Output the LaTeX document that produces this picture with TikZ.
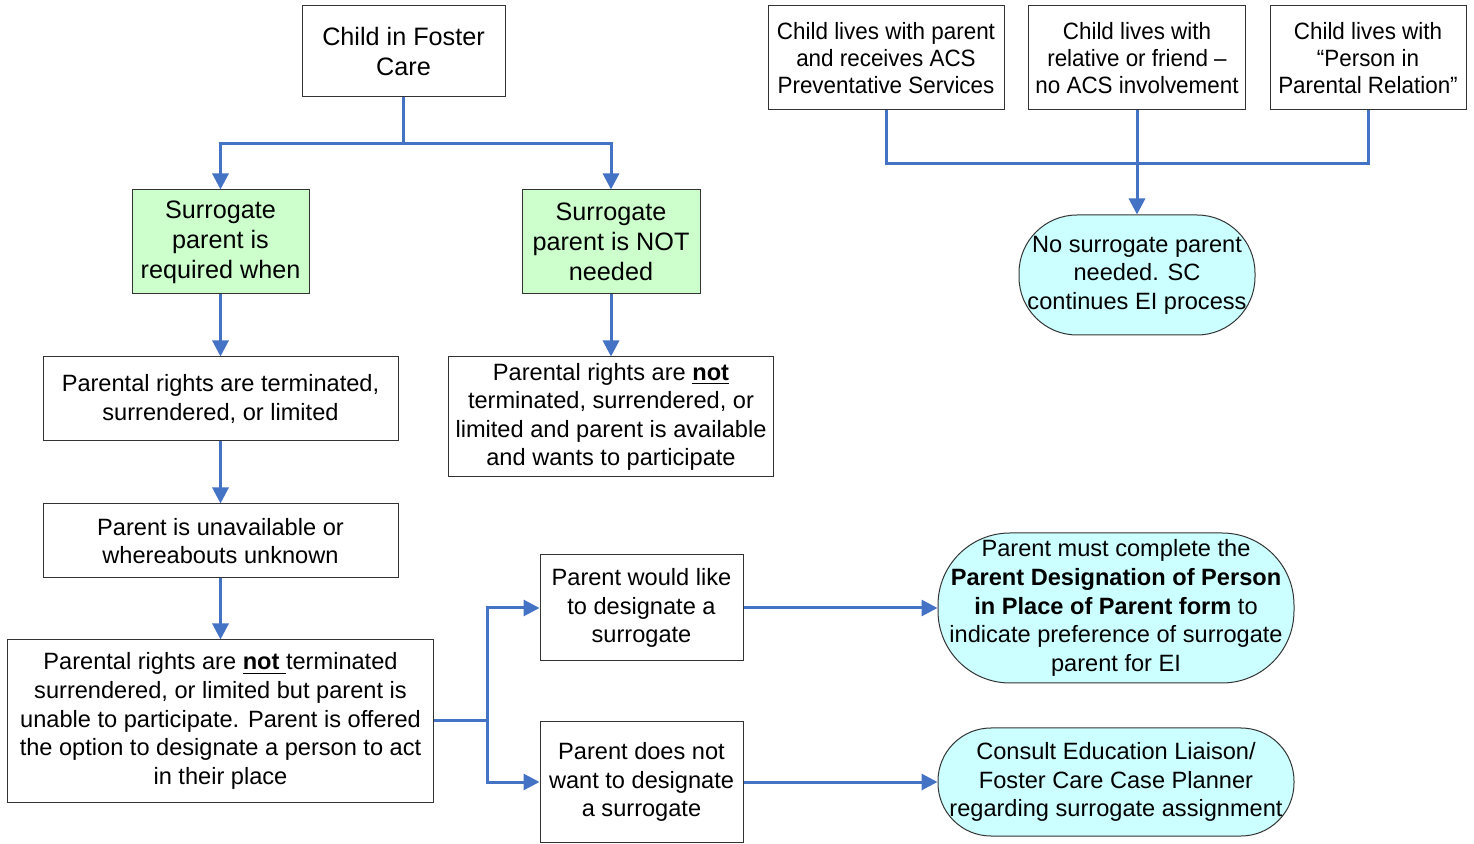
\documentclass[tikz,border=0pt]{standalone}
\usepackage{fontspec}
\setmainfont{Liberation Sans}
\newfontfamily\narrowsans[FakeStretch=0.95]{Liberation Sans}
\usetikzlibrary{positioning,arrows.meta}
\definecolor{flowblue}{HTML}{4472C4}
\definecolor{mintgreen}{HTML}{CCFFCC}
\definecolor{paleaqua}{HTML}{CCFFFF}
\begin{document}
\begin{tikzpicture}[x=0.5pt,y=-0.5pt,
  box/.style={draw=black!80,line width=0.5pt,align=center,inner sep=0pt,font=\fontsize{11.8}{14.3}\selectfont},
  bigbox/.style={box,font=\fontsize{12.6}{15}\selectfont},
  greenbox/.style={bigbox,fill=mintgreen},
  topbox/.style={box,font=\narrowsans\fontsize{11.8}{13.5}\selectfont},
  endbox/.style={box,fill=paleaqua,rounded corners=#1},
  link/.style={draw=flowblue,line width=1.5pt},
  linkarrow/.style={link,-{Triangle[length=8pt,width=8pt]}},
  node distance=31pt]
\useasboundingbox (0,0) rectangle (1474,844);

\node (foster) [bigbox,minimum width=101.5pt,minimum height=45.5pt] at (403.5,51.5) {Child in Foster\\Care};
\node (req) [greenbox,minimum width=88.5pt,minimum height=52pt] at (220.5,242) {Surrogate\\parent is\\required when};
\node (notneed) [greenbox,minimum width=89pt,minimum height=52pt] at (611,242) {Surrogate\\parent is NOT\\needed};
\node (term) [box,below=of req,minimum width=177.5pt,minimum height=42pt] {Parental rights are terminated,\\surrendered, or limited};
\node (unavail) [box,below=of term,minimum width=177.5pt,minimum height=37pt] {Parent is unavailable or\\whereabouts unknown};
\node (notterm) [box,below=30.5pt of unavail,minimum width=213pt,minimum height=81pt] {Parental rights are \underline{\textbf{not\ }}terminated\\surrendered, or limited but parent is\\unable to participate. Parent is offered\\the option to designate a person to act\\in their place};
\node (nott) [box,below=of notneed,minimum width=162.5pt,minimum height=60pt] {Parental rights are \underline{\textbf{not}}\\terminated, surrendered, or\\limited and parent is available\\and wants to participate};
\node (like) [box,minimum width=101.5pt,minimum height=53pt] at (641.5,608) {Parent would like\\to designate a\\surrogate};
\node (notwant) [box,minimum width=101.5pt,minimum height=60pt] at (641.5,782) {Parent does not\\want to designate\\a surrogate};
\node (must) [endbox=36pt,minimum width=178pt,minimum height=75pt] at (1116,608) {Parent must complete the\\\textbf{Parent Designation of Person}\\\textbf{in Place of Parent form} to\\indicate preference of surrogate\\parent for EI};
\node (consult) [endbox=26.5pt,minimum width=178pt,minimum height=54pt] at (1116,782) {Consult Education Liaison/\\Foster Care Case Planner\\regarding surrogate assignment};
\node (livesparent) [topbox,minimum width=118pt,minimum height=52pt] at (886,58) {Child lives with parent\\and receives ACS\\Preventative Services};
\node (livesrelative) [topbox,minimum width=108.5pt,minimum height=52pt] at (1137,58) {Child lives with\\relative or friend –\\no ACS involvement};
\node (livespipr) [topbox,minimum width=98pt,minimum height=52pt] at (1368,58) {Child lives with\\“Person in\\Parental Relation”};
\node (nosurr) [endbox=29pt,minimum width=118pt,minimum height=60pt] at (1137,275) {No surrogate parent\\needed. SC\\continues EI process};

\draw[linkarrow] (foster.south) -- ++(0,46) -| (req.north);
\draw[linkarrow] (foster.south) -- ++(0,46) -| (notneed.north);
\draw[linkarrow] (req) -- (term);
\draw[linkarrow] (term) -- (unavail);
\draw[linkarrow] (unavail) -- (notterm);
\draw[linkarrow] (notneed) -- (nott);
\draw[linkarrow] (notterm.east) -- ++(53,0) |- (like.west);
\draw[linkarrow] (notterm.east) -- ++(53,0) |- (notwant.west);
\draw[linkarrow] (like) -- (must);
\draw[linkarrow] (notwant) -- (consult);
\draw[link] (livesparent.south) -- ++(0,53) -| (livespipr.south);
\draw[linkarrow] (livesrelative) -- (nosurr);
\end{tikzpicture}
\end{document}
